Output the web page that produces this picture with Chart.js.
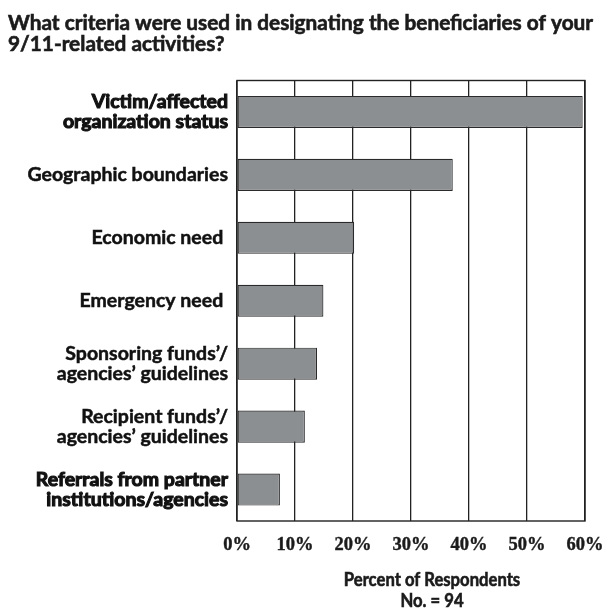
<!DOCTYPE html>
<html>
<head>
<meta charset="utf-8">
<script src="https://cdn.jsdelivr.net/npm/chart.js@4.4.1/dist/chart.umd.min.js"></script>
<style>
  body { margin: 0; background: #fff; }
  #wrap { width: 607px; height: 615px; }
</style>
</head>
<body>
<div id="wrap"><canvas id="myChart" width="607" height="615"></canvas></div>
<script>
// criteria used to pick beneficiaries, share of respondents (%)
const categories = [
  ['Victim/affected', 'organization status'],
  ['Geographic boundaries'],
  ['Economic need '],
  ['Emergency need '],
  ['Sponsoring funds\u2019/', 'agencies\u2019 guidelines'],
  ['Recipient funds\u2019/', 'agencies\u2019 guidelines'],
  ['Referrals from partner', 'institutions/agencies']
];
const percents = [59.6, 37.2, 20.2, 14.9, 13.8, 11.7, 7.4];
const heavyRows = [0, 6];

const xMin = 0;
const xMax = 60;
const xStep = 10;

const titleLines = [
  'What criteria were used in designating the beneficiaries of your',
  '9/11-related activities?'
];
const axisTitleLines = ['Percent of Respondents', 'No. = 94'];

const ink = '#1b1b1b';

// heavy text: fill plus a thin stroke, squeezed horizontally by sx
function heavyText(ctx, text, x, y, sx) {
  ctx.save();
  ctx.translate(x, y);
  ctx.scale(sx, 1);
  ctx.fillText(text, 0, 0);
  ctx.strokeText(text, 0, 0);
  ctx.restore();
}

// title, plot frame and axis caption
const extras = {
  id: 'extras',
  beforeDraw(chart) {
    const ctx = chart.ctx;
    ctx.save();
    ctx.fillStyle = ink;
    ctx.strokeStyle = ink;
    ctx.lineWidth = 0.6;
    ctx.font = 'bold 20px Lato';
    ctx.textBaseline = 'alphabetic';
    ctx.textAlign = 'left';
    titleLines.forEach((t, i) => {
      heavyText(ctx, t, 8, 29.5 + i * 21, 1.04);
    });
    ctx.restore();
  },
  afterDatasetsDraw(chart) {
    const ctx = chart.ctx;
    const a = chart.chartArea;
    ctx.save();
    ctx.strokeStyle = '#222';
    ctx.lineWidth = 1.4;
    ctx.strokeRect(a.left, a.top, a.right - a.left, a.bottom - a.top);
    ctx.restore();
  },
  afterDraw(chart) {
    const ctx = chart.ctx;
    const a = chart.chartArea;
    ctx.save();
    ctx.fillStyle = ink;
    ctx.strokeStyle = ink;
    ctx.lineWidth = 0.6;
    ctx.font = 'bold 18.5px Lato';
    ctx.textAlign = 'center';
    ctx.textBaseline = 'middle';
    const cx = (a.left + a.right) / 2 + 21;
    axisTitleLines.forEach((t, i) => {
      heavyText(ctx, t, cx, a.bottom + 59 + i * 21, 0.9);
    });
    ctx.restore();
  }
};

new Chart(document.getElementById('myChart'), {
  type: 'bar',
  data: {
    labels: categories,
    datasets: [{
      data: percents,
      backgroundColor: '#8c8f91',
      borderColor: '#2a2a2a',
      borderWidth: 1.2,
      borderSkipped: false,
      barPercentage: 0.51,
      categoryPercentage: 1
    }]
  },
  options: {
    indexAxis: 'y',
    responsive: false,
    animation: false,
    layout: { padding: { top: 80.5, right: 22, bottom: 54, left: 0 } },
    plugins: {
      legend: { display: false },
      tooltip: { enabled: false }
    },
    scales: {
      x: {
        min: xMin,
        max: xMax,
        afterFit: s => {
          s.height = 40;
          // the 60% label fits inside the right padding
          s.paddingLeft = 0;
          s.paddingRight = 0;
        },
        border: { display: false },
        grid: { color: '#222', lineWidth: 1.3, drawTicks: false },
        ticks: {
          stepSize: xStep,
          padding: 13,
          color: ink,
          textStrokeColor: ink,
          textStrokeWidth: 0.4,
          font: { family: 'Liberation Serif', weight: 'bold', size: 18.5 },
          callback: v => v + '%'
        }
      },
      y: {
        afterFit: s => { s.width = 237; },
        border: { display: false },
        grid: { display: false, drawTicks: false },
        ticks: {
          padding: 9,
          color: '#111',
          textStrokeColor: '#111',
          textStrokeWidth: c => heavyRows.includes(c.index) ? 1.1 : 0.5,
          font: { family: 'Lato', size: 19.5, weight: 'bold', lineHeight: 1.03 }
        }
      }
    }
  },
  plugins: [extras]
});
</script>
</body>
</html>
